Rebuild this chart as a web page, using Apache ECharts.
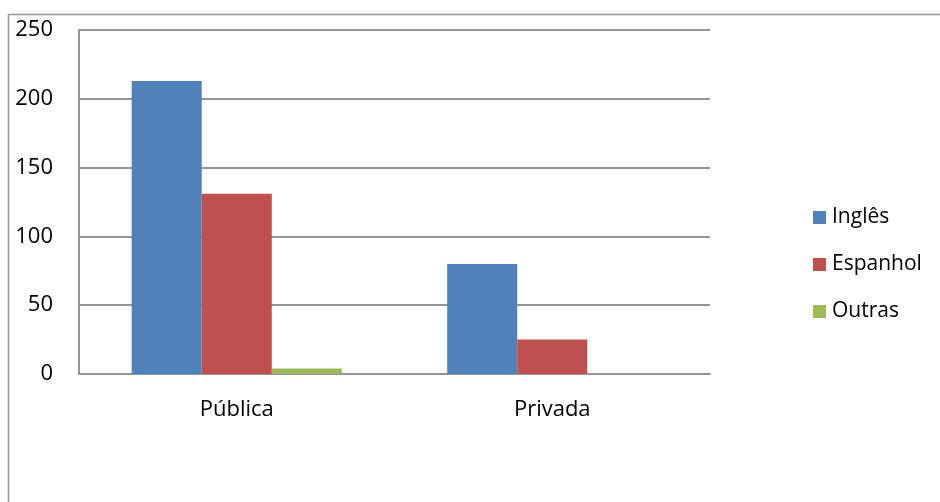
<!DOCTYPE html>
<html>
<head>
<meta charset="utf-8">
<script src="https://cdn.jsdelivr.net/npm/echarts@6/dist/echarts.min.js"></script>
<style>
html,body{margin:0;padding:0;background:#fff;}
#chart{width:940px;height:502px;}
</style>
</head>
<body>
<div id="chart"></div>
<script>
var categories = ['Pública', 'Privada'];
var seriesNames = ['Inglês', 'Espanhol', 'Outras'];
var ingles = [213, 80];
var espanhol = [131, 25];
var outras = [4, 0];
var yTicks = [0, 50, 100, 150, 200, 250];

var colors = ['#4F81BD', '#C0504D', '#9BBB59'];
var font = '"Open Sans", "DejaVu Sans", sans-serif';

var chart = echarts.init(document.getElementById('chart'), null, {renderer: 'canvas'});
var values = [ingles, espanhol, outras];
chart.setOption({
  animation: false,
  backgroundColor: '#fff',
  graphic: [{
    type: 'rect',
    shape: {x: 8.5, y: 14.5, width: 960, height: 520},
    style: {fill: 'none', stroke: '#999', lineWidth: 1.5},
    silent: true
  }],
  grid: {left: 79, right: 230, top: 30, bottom: 128, containLabel: false},
  legend: {
    orient: 'vertical',
    left: 808,
    top: 202,
    itemWidth: 13,
    itemHeight: 13,
    itemGap: 26,
    icon: 'rect',
    textStyle: {fontFamily: font, fontSize: 21, color: '#000', padding: [0, 0, 0, 1]},
    data: seriesNames
  },
  xAxis: {
    type: 'category',
    data: categories,
    axisLine: {show: true, lineStyle: {color: '#959595', width: 2}},
    axisTick: {show: false},
    axisLabel: {fontFamily: font, fontSize: 22, color: '#000', margin: 25}
  },
  yAxis: {
    type: 'value',
    min: yTicks[0],
    max: yTicks[yTicks.length - 1],
    interval: 50,
    axisLine: {show: true, lineStyle: {color: '#959595', width: 2}},
    axisTick: {show: false},
    axisLabel: {fontFamily: font, fontSize: 22, color: '#000', margin: 26},
    splitLine: {show: true, lineStyle: {color: '#959595', width: 2}}
  },
  series: seriesNames.map(function (n, i) {
    return {
      name: n,
      type: 'bar',
      data: values[i],
      barGap: '0%',
      barCategoryGap: '33.4%',
      itemStyle: {color: colors[i]}
    };
  })
});
</script>
</body>
</html>
